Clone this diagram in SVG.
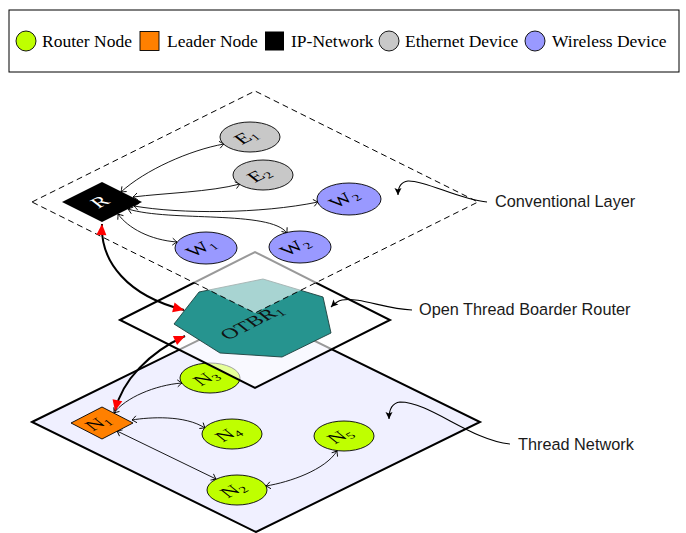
<svg xmlns="http://www.w3.org/2000/svg" width="686" height="533" viewBox="0 0 686 533">
<style>
.plane{stroke:#000;stroke-width:2;stroke-linejoin:miter}
.edge{fill:none;stroke:#000;stroke-width:0.9;marker-start:url(#tip);marker-end:url(#tip)}
.thick{fill:none;stroke:#000;stroke-width:2;marker-start:url(#red);marker-end:url(#red)}
.call{fill:none;stroke:#000;stroke-width:1.1;marker-end:url(#ctip)}
.node{stroke:#000;stroke-width:0.9}
.eth{fill:#c8c8c8}
.wl{fill:#9999ff}
.rt{fill:#bfff00}
.nl{font-family:"Liberation Serif","Times New Roman",serif;font-size:19px;fill:#000;text-anchor:middle}
.wh{fill:#fff}
.lg{font-family:"Liberation Serif","Times New Roman",serif;font-size:17.5px;fill:#000}
.cl{font-family:"Liberation Sans",Arial,sans-serif;font-size:16.3px;fill:#1a1a1a}
</style>
<defs>
<marker id="tip" markerUnits="userSpaceOnUse" viewBox="-6 -5 7 10" refX="0" refY="0" markerWidth="7" markerHeight="10" orient="auto-start-reverse">
<path d="M-4.5,-3.5 Q-1.5,-1 0,0 Q-1.5,1 -4.5,3.5" fill="none" stroke="#000" stroke-width="0.9"/>
</marker>
<marker id="red" markerUnits="userSpaceOnUse" viewBox="-12 -6 13 12" refX="0" refY="0" markerWidth="13" markerHeight="12" orient="auto-start-reverse">
<path d="M0,0 L-11,-5 L-11,5 Z" fill="#ff0000"/>
</marker>
<marker id="ctip" markerUnits="userSpaceOnUse" viewBox="-8 -5 9 10" refX="0" refY="0" markerWidth="9" markerHeight="10" orient="auto">
<path d="M0,0 L-7,-3.5 L-5.5,0 L-7,3.5 Z" fill="#000"/>
</marker>
</defs>

<g id="legend">
<rect x="9" y="10" width="670" height="62" fill="#fff" stroke="#000" stroke-width="1"/>
<circle cx="26" cy="41" r="10" class="node rt"/>
<text x="42" y="47" class="lg">Router Node</text>
<rect x="140" y="31.5" width="19" height="19" fill="#ff8000" stroke="#000" stroke-width="0.9"/>
<text x="167" y="47" class="lg">Leader Node</text>
<rect x="265" y="31.5" width="19" height="19" fill="#000"/>
<text x="291" y="47" class="lg">IP-Network</text>
<circle cx="389" cy="41" r="10" class="node eth"/>
<text x="405" y="47" class="lg">Ethernet Device</text>
<circle cx="535" cy="41" r="10" class="node wl"/>
<text x="552" y="47" class="lg">Wireless Device</text>
</g>

<g id="thread-layer">
<polygon class="plane" points="32,422 256,312 480,422 256,532" fill="#f0f0ff"/>
</g>

<g id="thread-connectors">
<path class="edge" d="M114,413 C125,398 155,385 182,383"/>
<path class="edge" d="M132,420 C150,417 185,415 205,428"/>
<path class="edge" d="M117,431 L216,479"/>
<path class="edge" d="M266,486 C290,482 325,470 337,451"/>
</g>

<g id="N1">
<polygon points="71,423 102,407 133,423 102,439" fill="#ff8000" stroke="#000" stroke-width="0.9"/>
<text class="nl" transform="matrix(1,-0.5,0.75,0.6,98,423)" y="6">N<tspan font-size="12" dy="3">1</tspan></text>
</g>
<g id="N3">
<ellipse cx="210" cy="378" rx="30" ry="15" class="node rt"/>
<text class="nl" transform="matrix(1,-0.5,0.75,0.6,206,378)" y="6">N<tspan font-size="12" dy="3">3</tspan></text>
</g>
<g id="N4">
<ellipse cx="232" cy="434" rx="30" ry="15" class="node rt"/>
<text class="nl" transform="matrix(1,-0.5,0.75,0.6,228,434)" y="6">N<tspan font-size="12" dy="3">4</tspan></text>
</g>
<g id="N5">
<ellipse cx="344" cy="436" rx="30" ry="15" class="node rt"/>
<text class="nl" transform="matrix(1,-0.5,0.75,0.6,340,436)" y="6">N<tspan font-size="12" dy="3">5</tspan></text>
</g>
<g id="N2">
<ellipse cx="237" cy="490" rx="30" ry="15" class="node rt"/>
<text class="nl" transform="matrix(1,-0.5,0.75,0.6,233,490)" y="6">N<tspan font-size="12" dy="3">2</tspan></text>
</g>

<g id="otbr-layer">
<polygon class="plane" points="120,320 255,252 390,320 255,388" fill="#fff" fill-opacity="0.6"/>
</g>
<g id="OTBR1">
<polygon points="199,292 263,279 323,297 331,333 282,357 220,353 174,324" fill="#26948f" stroke="#1d3f3d" stroke-width="0.9"/>
<text class="nl" transform="matrix(1,-0.5,0.75,0.6,251,322)" y="7" font-size="21" style="fill:#111">OTBR<tspan font-size="13" dy="3">1</tspan></text>
</g>

<g id="conventional-layer">
<polygon points="32,202 255,91 478,202 255,313" fill="#fff" fill-opacity="0.6" stroke="#000" stroke-width="1" stroke-dasharray="6 4"/>
</g>

<g id="conventional-connectors">
<path class="edge" d="M121,192 C145,170 190,150 224,144"/>
<path class="edge" d="M133,197 C165,193 210,192 240,184"/>
<path class="edge" d="M134,206 C180,214 260,214 318,202"/>
<path class="edge" d="M128,209 C170,222 270,210 287,233"/>
<path class="edge" d="M118,214 C128,228 150,240 177,242"/>
</g>

<g id="R">
<polygon points="62,202 102,182 142,202 102,222" fill="#000"/>
<text class="nl wh" transform="matrix(1,-0.5,0.75,0.6,100,202)" y="6">R</text>
</g>
<g id="E1">
<ellipse cx="250" cy="137" rx="30" ry="15" class="node eth"/>
<text class="nl" transform="matrix(1,-0.5,0.75,0.6,246,137)" y="6">E<tspan font-size="12" dy="3">1</tspan></text>
</g>
<g id="E2">
<ellipse cx="263" cy="175" rx="30" ry="15" class="node eth"/>
<text class="nl" transform="matrix(1,-0.5,0.75,0.6,259,175)" y="6">E<tspan font-size="12" dy="3">2</tspan></text>
</g>
<g id="W2a">
<ellipse cx="349" cy="199" rx="32" ry="16" class="node wl"/>
<text class="nl" transform="matrix(1,-0.5,0.75,0.6,344,199)" y="6">W<tspan font-size="12" dy="3">2</tspan></text>
</g>
<g id="W1">
<ellipse cx="206" cy="248" rx="31" ry="16" class="node wl"/>
<text class="nl" transform="matrix(1,-0.5,0.75,0.6,201,248)" y="6">W<tspan font-size="12" dy="3">1</tspan></text>
</g>
<g id="W2b">
<ellipse cx="300" cy="247" rx="31" ry="16" class="node wl"/>
<text class="nl" transform="matrix(1,-0.5,0.75,0.6,295,247)" y="6">W<tspan font-size="12" dy="3">2</tspan></text>
</g>

<g id="inter-layer-connectors">
<path class="thick" d="M102,224 C100,262 128,296 184,310"/>
<path class="thick" d="M185,336 C150,352 122,380 115,411"/>
</g>

<g id="callouts">
<path class="call" d="M487,202 C460,200 425,180 408,181 C400,182 398,188 398,195"/>
<text x="495" y="207" class="cl">Conventional Layer</text>
<path class="call" d="M412,310 C385,309 360,297 342,300 C337,301 334,304 331,307"/>
<text x="419" y="315" class="cl">Open Thread Boarder Router</text>
<path class="call" d="M510,444 C470,440 430,402 400,402 C392,403 389,410 389,419"/>
<text x="518" y="450" class="cl">Thread Network</text>
</g>
</svg>
